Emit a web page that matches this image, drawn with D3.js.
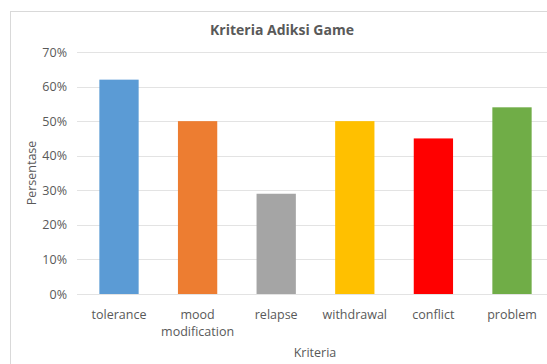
<!DOCTYPE html>
<html>
<head>
<meta charset="utf-8">
<script src="https://cdn.jsdelivr.net/npm/d3@7"></script>
<style>
  body { margin: 0; background: #fff; }
  text { font-family: "Open Sans", "Liberation Sans", sans-serif; fill: #595959; }
</style>
</head>
<body>
<svg id="chart"></svg>
<script>
const categories = ["tolerance", "mood modification", "relapse", "withdrawal", "conflict", "problem"];
const values = [0.62, 0.50, 0.29, 0.50, 0.45, 0.54];
const barColors = ["#5b9bd5", "#ed7d31", "#a5a5a5", "#ffc000", "#ff0000", "#70ad47"];
const yTicks = [0, 0.1, 0.2, 0.3, 0.4, 0.5, 0.6, 0.7];

const w = 547;
const h = 364;
const plotLeft = 79.7;
const plotRight = 551.3;
const plotTop = 52;
const plotBottom = 294;

const svg = d3.select("#chart").attr("width", w).attr("height", h);

// chart border
svg.append("rect")
  .attr("x", 10.5).attr("y", 11.5)
  .attr("width", 600).attr("height", 400)
  .attr("fill", "#fff").attr("stroke", "#d9d9d9");

const x = d3.scaleBand().domain(categories).range([plotLeft, plotRight]).paddingInner(0.5).paddingOuter(0.25);
const y = d3.scaleLinear().domain([0, 0.7]).range([plotBottom, plotTop]);

// gridlines
svg.append("g")
  .selectAll("line")
  .data(yTicks)
  .enter()
  .append("line")
  .attr("x1", 77).attr("x2", plotRight)
  .attr("y1", d => Math.round(y(d)) + 0.5)
  .attr("y2", d => Math.round(y(d)) + 0.5)
  .attr("stroke", "#e3e3e3");

// y axis labels
const yAxis = d3.axisLeft(y).tickValues(yTicks).tickFormat(d3.format(".0%")).tickSize(0).tickPadding(0);
const yG = svg.append("g").attr("transform", "translate(67,0)").call(yAxis);
yG.select(".domain").remove();
yG.attr("font-family", null).attr("font-size", null);
yG.selectAll("text").style("font-size", "12.5px").attr("fill", "#595959");

// bars
svg.append("g")
  .selectAll("rect")
  .data(categories)
  .enter()
  .append("rect")
  .attr("x", d => x(d))
  .attr("width", x.bandwidth())
  .attr("y", (d, i) => y(values[i]))
  .attr("height", (d, i) => y(0) - y(values[i]))
  .attr("fill", (d, i) => barColors[i]);

// x axis labels
const xLabels = svg.append("g");
categories.forEach(c => {
  const t = xLabels.append("text")
    .attr("text-anchor", "middle")
    .attr("x", x(c) + x.bandwidth() / 2)
    .attr("y", 319)
    .style("font-size", "12.5px");
  const words = c === "mood modification" ? ["mood", "modification"] : [c];
  words.forEach((wd, i) => {
    t.append("tspan").attr("x", x(c) + x.bandwidth() / 2).attr("dy", i === 0 ? 0 : 17).text(wd);
  });
});

// title
svg.append("text")
  .attr("x", 282).attr("y", 35)
  .attr("text-anchor", "middle")
  .style("font-size", "14px")
  .style("font-weight", "bold")
  .text("Kriteria Adiksi Game");

// axis titles
svg.append("text")
  .attr("transform", "translate(36," + (plotTop + plotBottom) / 2 + ") rotate(-90)")
  .attr("text-anchor", "middle")
  .style("font-size", "12.5px")
  .text("Persentase");

svg.append("text")
  .attr("x", 315).attr("y", 357)
  .attr("text-anchor", "middle")
  .style("font-size", "12.5px")
  .text("Kriteria");
</script>
</body>
</html>
